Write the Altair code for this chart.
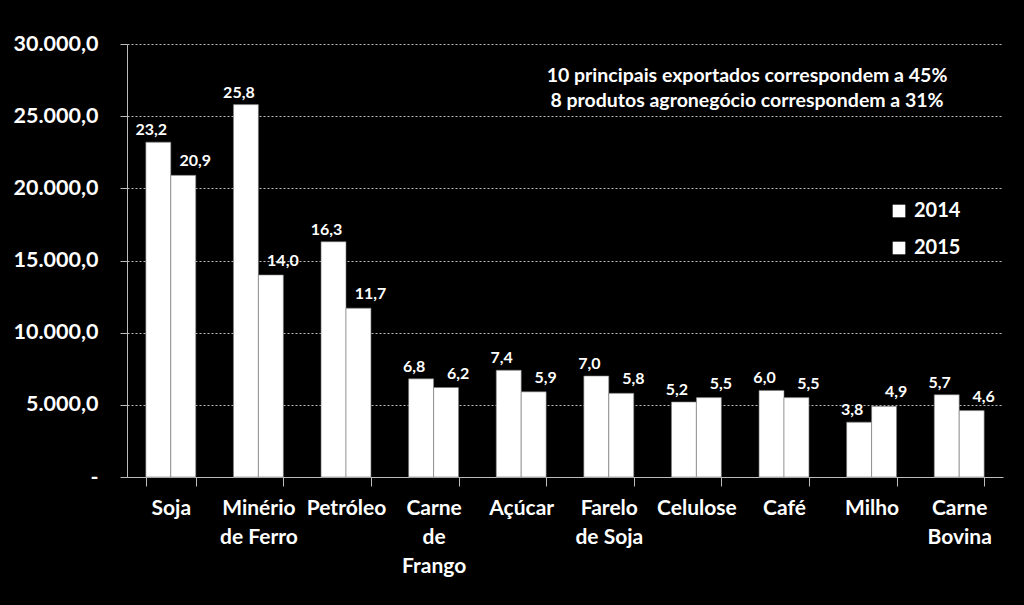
import altair as alt
import pandas as pd

categories = ["Soja", "Minério de Ferro", "Petróleo", "Carne de Frango", "Açúcar",
              "Farelo de Soja", "Celulose", "Café", "Milho", "Carne Bovina"]
label_lines = [["Soja"], ["Minério", "de Ferro"], ["Petróleo"], ["Carne", "de", "Frango"],
               ["Açúcar"], ["Farelo", "de Soja"], ["Celulose"], ["Café"], ["Milho"],
               ["Carne", "Bovina"]]
years = ["2014", "2015"]
values_2014 = [23.2, 25.8, 16.3, 6.8, 7.4, 7.0, 5.2, 6.0, 3.8, 5.7]   # US$ bilhões
values_2015 = [20.9, 14.0, 11.7, 6.2, 5.9, 5.8, 5.5, 5.5, 4.9, 4.6]
y_ticks = [0, 5000, 10000, 15000, 20000, 25000, 30000]
note_lines = ["10 principais exportados correspondem a 45%",
              "8 produtos agronegócio correspondem a 31%"]

rows = []
for c, a, b in zip(categories, values_2014, values_2015):
    rows.append({"cat": c, "ano": "2014", "bi": a})
    rows.append({"cat": c, "ano": "2015", "bi": b})
df = pd.DataFrame(rows)
df["valor"] = df["bi"] * 1000
df["rotulo"] = df["bi"].map(lambda v: f"{v:.1f}".replace(".", ","))

FONT = "Lato"

# multi-line category labels
expr = "datum.label"
for c, lines in zip(categories, label_lines):
    if len(lines) > 1:
        arr = "[" + ",".join(f"'{l}'" for l in lines) + "]"
        expr = f"datum.label == '{c}' ? {arr} : ({expr})"

x = alt.X("cat:N", sort=categories, title=None,
          scale=alt.Scale(paddingInner=0.43, paddingOuter=0.215),
          axis=alt.Axis(labelAngle=0, tickBand="extent", tickSize=9, tickColor="#bbbbbb",
                        domainColor="#bbbbbb", labelColor="white", labelFont=FONT,
                        labelFontSize=21, labelFontWeight="bold", labelPadding=11,
                        labelLineHeight=29, labelBaseline="top", labelExpr=expr))
y_lab = ("datum.value == 0 ? '-' : replace(replace(replace(format(datum.value, ',.1f'), ',', '#'), '.', ','), '#', '.')")
y = alt.Y("valor:Q", title=None,
          scale=alt.Scale(domain=[0, 30000], nice=False),
          axis=alt.Axis(values=y_ticks, labelExpr=y_lab, tickSize=7, tickColor="#bbbbbb",
                        domainColor="#bbbbbb", labelColor="white", labelFont=FONT,
                        labelFontSize=21.5, labelFontWeight="bold", labelPadding=22,
                        grid=True, gridColor="#bbbbbb", gridDash=[2, 2], gridWidth=1))
xoff = alt.XOffset("ano:N", sort=years, scale=alt.Scale(paddingInner=0, paddingOuter=0))

base = alt.Chart(df)

bars = base.mark_bar(stroke="#777777", strokeWidth=0.6).encode(
    x=x, y=y, xOffset=xoff,
    color=alt.Color("ano:N", sort=years,
                    scale=alt.Scale(domain=years, range=["white", "white"]),
                    legend=alt.Legend(title=None, orient="none", legendX=762, legendY=157,
                                      symbolType="square", symbolSize=160,
                                      symbolStrokeWidth=0, labelColor="white",
                                      labelFont=FONT, labelFontSize=20,
                                      labelFontWeight="bold", rowPadding=17,
                                      labelOffset=5)),
)

t14 = base.transform_filter("datum.ano == '2014'").mark_text(
    color="white", font=FONT, fontSize=16, fontWeight="bold", baseline="bottom", dx=-7, dy=-4
).encode(x=x, y=y, xOffset=xoff, text="rotulo:N")
t15 = base.transform_filter("datum.ano == '2015'").mark_text(
    color="white", font=FONT, fontSize=16, fontWeight="bold", baseline="bottom", dx=12, dy=-6
).encode(x=x, y=y, xOffset=xoff, text="rotulo:N")

note_df = pd.DataFrame({"t": ["\n".join(note_lines)]})
note = alt.Chart(note_df).mark_text(
    color="white", font=FONT, fontSize=19.5, fontWeight="bold", align="center",
    baseline="middle", lineBreak="\n", lineHeight=25
).encode(x=alt.value(620), y=alt.value(32), text="t:N")

chart = alt.layer(bars, t14, t15, note).properties(
    width=876, height=433, background="black",
    autosize=alt.AutoSizeParams(type="none"),
    padding={"left": 127, "top": 44, "right": 21, "bottom": 128},
).configure_view(stroke=None)

chart.save("out.html", embed_options={"renderer": "svg", "actions": False})
